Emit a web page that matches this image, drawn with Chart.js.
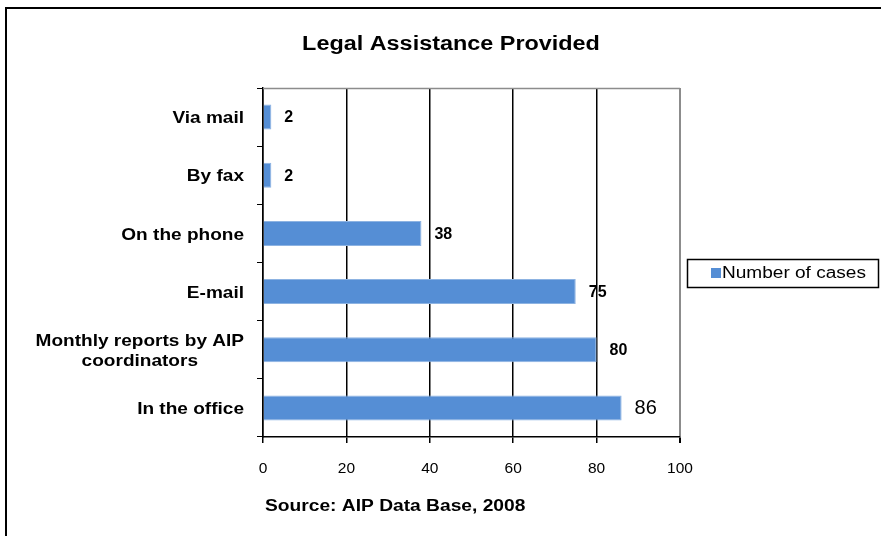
<!DOCTYPE html>
<html lang="en">
<head>
    <meta charset="UTF-8">
    <script src="https://cdn.jsdelivr.net/npm/chart.js"></script>
    <title>Legal Assistance Provided</title>
    <style>
        body { margin: 0; background: #fff; }
        #wrap { width: 881px; height: 536px; }
    </style>
</head>
<body>
    <div id="wrap">
        <canvas id="myChart" width="881" height="536"></canvas>
    </div>
    <script>
        const categories = ['Via mail', 'By fax', 'On the phone', 'E-mail', ['Monthly reports by AIP', 'coordinators'], 'In the office'];
        const cases = [2, 2, 38, 75, 80, 86];
        const xTicks = [0, 20, 40, 60, 80, 100];
        const seriesName = 'Number of cases';
        const titleText = 'Legal Assistance Provided';
        const sourceText = 'Source: AIP Data Base, 2008';

        const FONT = '"Liberation Sans", Arial, sans-serif';
        const BAR = '#558ED5';

        // text drawn with a horizontal stretch factor sx
        function drawText(c, text, x, y, font, align, sx) {
            c.save();
            c.font = font;
            c.textAlign = align;
            c.textBaseline = 'middle';
            c.translate(x, y);
            c.scale(sx, 1);
            c.fillText(text, 0, 0);
            c.restore();
        }

        // frame, titles, legend, category labels and value labels
        const extras = {
            id: 'extras',
            beforeDraw(chart) {
                const c = chart.ctx;
                c.save();
                c.fillStyle = '#fff';
                c.fillRect(0, 0, chart.width, chart.height);
                c.strokeStyle = '#000';
                c.lineWidth = 2;
                c.beginPath();
                c.moveTo(6, chart.height);
                c.lineTo(6, 8);
                c.lineTo(chart.width, 8);
                c.stroke();
                c.restore();
            },
            afterDraw(chart) {
                const c = chart.ctx;
                const area = chart.chartArea;
                const yScale = chart.scales.y;
                const xScale = chart.scales.x;
                c.save();

                // plot area top border
                c.strokeStyle = '#8c8c8c';
                c.lineWidth = 1.5;
                c.beginPath();
                c.moveTo(area.left, area.top + 0.5);
                c.lineTo(area.right, area.top + 0.5);
                c.stroke();

                c.fillStyle = '#000';
                drawText(c, titleText, 451, 44, 'bold 20px ' + FONT, 'center', 1.17);
                drawText(c, sourceText, 265, 507, 'bold 16px ' + FONT, 'left', 1.2);

                // category labels: right-aligned block, lines centred within it
                const labFont = 'bold 17px ' + FONT;
                const labSx = 1.12;
                const rightEdge = 244;
                c.font = labFont;
                categories.forEach((lab, i) => {
                    const y = yScale.getPixelForValue(i) + 1.5;
                    const lines = Array.isArray(lab) ? lab : [lab];
                    const w = Math.max(...lines.map(l => c.measureText(l).width)) * labSx;
                    const lh = 20;
                    lines.forEach((l, j) => {
                        const ly = y + (j - (lines.length - 1) / 2) * lh;
                        drawText(c, l, rightEdge - w / 2, ly, labFont, 'center', labSx);
                    });
                });

                // value labels at bar ends
                const meta = chart.getDatasetMeta(0);
                meta.data.forEach((bar, i) => {
                    const last = i === cases.length - 1;
                    const f = last ? '20px ' + FONT : 'bold 16px ' + FONT;
                    drawText(c, String(cases[i]), xScale.getPixelForValue(cases[i]) + 13, bar.y + 1, f, 'left', 1);
                });

                // legend box
                c.strokeStyle = '#000';
                c.lineWidth = 1.5;
                c.strokeRect(687.5, 259.5, 191, 28);
                c.fillStyle = BAR;
                c.fillRect(711, 268, 10, 10);
                c.fillStyle = '#000';
                drawText(c, seriesName, 722, 274, '16px ' + FONT, 'left', 1.19);

                c.restore();
            }
        };

        const ctx = document.getElementById('myChart');
        const chart = new Chart(ctx, {
            type: 'bar',
            data: {
                labels: categories,
                datasets: [{
                    label: seriesName,
                    data: cases,
                    backgroundColor: BAR,
                    borderColor: '#8DB3E2',
                    borderWidth: 1,
                    categoryPercentage: 1,
                    barPercentage: 0.43
                }]
            },
            options: {
                indexAxis: 'y',
                responsive: false,
                animation: false,
                layout: {
                    padding: { top: 88, right: 201, bottom: 59, left: 0 }
                },
                plugins: {
                    legend: { display: false },
                    title: { display: false },
                    tooltip: { enabled: false }
                },
                scales: {
                    x: {
                        min: 0,
                        max: 100,
                        afterBuildTicks(scale) {
                            scale.ticks = xTicks.map(v => ({ value: v }));
                        },
                        afterFit(scale) { scale.height = 40; },
                        grid: {
                            color: c => c.tick && c.tick.value === 100 ? '#8c8c8c' : '#000',
                            lineWidth: c => c.tick && c.tick.value === 100 ? 2 : 1.5,
                            tickLength: 6,
                            tickColor: '#000'
                        },
                        border: { color: '#000', width: 1.5 },
                        ticks: {
                            color: '#000',
                            padding: 16,
                            font: { family: FONT, size: 15.5 }
                        }
                    },
                    y: {
                        afterFit(scale) { scale.width = 263; },
                        grid: {
                            drawOnChartArea: false,
                            tickLength: 6,
                            tickColor: '#000',
                            lineWidth: 1
                        },
                        border: { color: '#000', width: 1.5 },
                        ticks: { display: false }
                    }
                }
            },
            plugins: [extras]
        });
    </script>
</body>
</html>
